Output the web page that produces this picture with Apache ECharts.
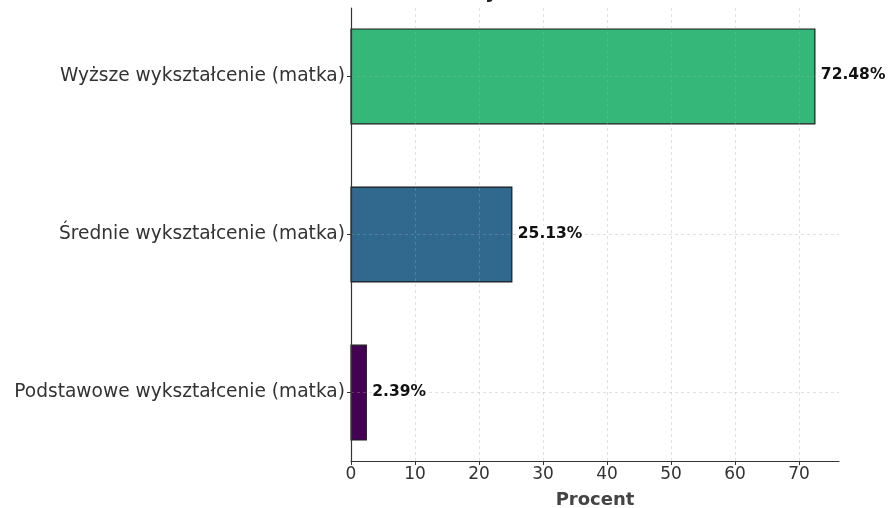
<!DOCTYPE html>
<html>
<head>
<meta charset="utf-8">
<script src="https://cdn.jsdelivr.net/npm/echarts@6/dist/echarts.min.js"></script>
<style>
  html, body { margin: 0; padding: 0; background: #fff; }
  #chart { width: 892px; height: 508px; }
</style>
</head>
<body>
<div id="chart"></div>
<script>
// Mother's education level, share of respondents (top to bottom)
const categories = [
  'Wyższe wykształcenie (matka)',
  'Średnie wykształcenie (matka)',
  'Podstawowe wykształcenie (matka)'
];
const percentValues = [72.48, 25.13, 2.39];
const barColors = ['#35b779', '#31688e', '#440154'];
const xTicks = [0, 10, 20, 30, 40, 50, 60, 70];
const yPositions = [0, 1, 2];

const FONT = 'DejaVu Sans';
const BAR_THICKNESS = 0.6; // in category units
const GRID_LINE = { color: 'rgba(170,170,170,0.35)', type: [3, 3], width: 1 };

const seriesData = percentValues.map((v, i) => [v, i]);

const chart = echarts.init(document.getElementById('chart'), null, { renderer: 'canvas' });

chart.setOption({
  animation: false,
  backgroundColor: '#ffffff',
  title: {
    text: 'Wykształcenie matki',
    left: 458,
    top: -22,
    textStyle: { fontFamily: FONT, fontSize: 20, fontWeight: 'bold', color: '#222' }
  },
  grid: { left: 351, right: 53, top: 8, bottom: 47, containLabel: false, outerBoundsMode: 'none' },
  xAxis: {
    type: 'value',
    min: 0,
    max: 76.25,
    name: 'Procent',
    nameLocation: 'middle',
    nameGap: 30,
    nameTextStyle: { fontFamily: FONT, fontSize: 18, fontWeight: 'bold', color: '#444' },
    axisLine: { show: true, onZero: false, lineStyle: { color: '#333', width: 1.2 } },
    axisTick: { show: true, length: 4, customValues: xTicks, lineStyle: { color: '#333', width: 1 } },
    axisLabel: {
      customValues: xTicks,
      fontFamily: FONT, fontSize: 17, color: '#333', margin: 5
    },
    splitLine: { show: true, lineStyle: GRID_LINE }
  },
  yAxis: {
    type: 'value',
    inverse: true,
    min: -0.433,
    max: 2.433,
    axisLine: { show: true, onZero: false, lineStyle: { color: '#333', width: 1.2 } },
    axisTick: { show: true, length: 4, customValues: yPositions, lineStyle: { color: '#333', width: 1 } },
    axisLabel: {
      customValues: yPositions,
      fontFamily: FONT, fontSize: 18.6, color: '#333', margin: 6,
      formatter: v => categories[Math.round(v)] || ''
    },
    splitLine: { show: true, lineStyle: GRID_LINE }
  },
  series: [
    {
      // bars, drawn beneath the dashed grid
      type: 'custom',
      z: -1,
      encode: { x: 0, y: 1 },
      data: seriesData,
      renderItem: function (params, api) {
        const v = api.value(0);
        const i = api.value(1);
        const start = api.coord([0, i]);
        const end = api.coord([v, i]);
        const h = Math.abs(api.size([0, BAR_THICKNESS])[1]);
        return {
          type: 'rect',
          shape: { x: start[0], y: start[1] - h / 2, width: end[0] - start[0], height: h },
          style: { fill: barColors[i], stroke: '#1a1a1a', lineWidth: 1.2 }
        };
      }
    },
    {
      // value labels at the end of each bar
      type: 'custom',
      z: 5,
      encode: { x: 0, y: 1 },
      data: seriesData,
      renderItem: function (params, api) {
        const v = api.value(0);
        const i = api.value(1);
        const end = api.coord([v, i]);
        return {
          type: 'text',
          x: end[0] + 6,
          y: end[1] - 1,
          style: {
            text: v.toFixed(2) + '%',
            fontFamily: FONT, fontSize: 15.5, fontWeight: 'bold',
            fill: '#111', align: 'left', verticalAlign: 'middle',
            backgroundColor: '#fff'
          }
        };
      }
    }
  ]
});
</script>
</body>
</html>
